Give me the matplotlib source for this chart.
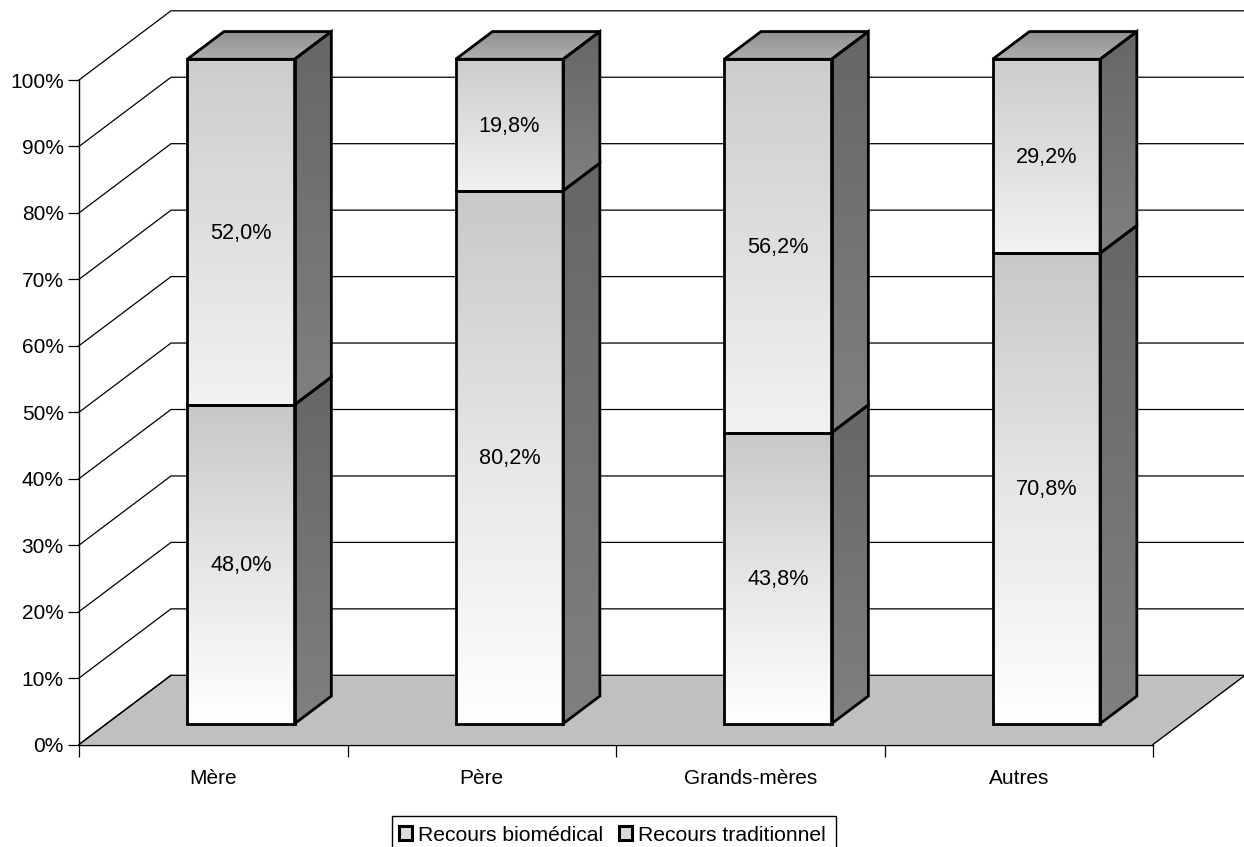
import numpy as np
import matplotlib
matplotlib.use("Agg")
import matplotlib.pyplot as plt
from matplotlib.patches import Polygon, Patch, Rectangle
from matplotlib.colors import LinearSegmentedColormap

categories = ["Mère", "Père", "Grands-mères", "Autres"]
biomedical = [48.0, 80.2, 43.8, 70.8]
traditionnel = [52.0, 19.8, 56.2, 29.2]
series_names = ["Recours biomédical", "Recours traditionnel"]
y_ticks = list(range(0, 101, 10))

plt.rcParams["font.family"] = ["Liberation Sans", "DejaVu Sans"]
FS = 15.0
W, H = 1244, 847
fig = plt.figure(figsize=(W / 100, H / 100), dpi=100, facecolor="white")
ax = fig.add_axes([79 / W, (H - 744.5) / H, 1074 / W, 664.5 / H])

DX, DY = 92 / 268.5, 69.2 / 6.645   # depth of the 3D box, in data units
BAR_W, Z0, Z1 = 0.4, 0.3, 0.7


def proj(x, y, z):
    return (x + z * DX, y + z * DY)


def grad_poly(pts, colors, zorder):
    pts = np.array(pts)
    cmap = LinearSegmentedColormap.from_list("g", colors)
    g = np.linspace(0, 1, 256).reshape(-1, 1)
    ext = [pts[:, 0].min(), pts[:, 0].max(), pts[:, 1].min(), pts[:, 1].max()]
    im = ax.imshow(g, cmap=cmap, extent=ext, origin="upper", aspect="auto",
                   zorder=zorder, interpolation="bilinear")
    poly = Polygon(pts, closed=True, transform=ax.transData, fc="none", ec="none")
    ax.add_patch(poly)
    poly.set_clip_on(False)
    im.set_clip_path(poly)
    im.set_clip_box(fig.bbox)
    ax.add_patch(Polygon(pts, closed=True, fc="none", ec="black", lw=2.0,
                         joinstyle="miter", zorder=zorder + 0.5, clip_on=False))


# floor
ax.add_patch(Polygon([proj(0, 0, 0), proj(4, 0, 0), proj(4, 0, 1), proj(0, 0, 1)],
                     closed=True, fc="#c0c0c0", ec="none", zorder=1, clip_on=False))
ax.plot(*zip(proj(4, 0, 0), proj(4, 0, 1)), color="black", lw=1, zorder=1.2, clip_on=False)
ax.plot(*zip(proj(0, 0, 0), proj(0, 0, 1)), color="black", lw=1, zorder=1.2, clip_on=False)

# walls: gridlines
for t in y_ticks:
    a, b, c = proj(0, t, 0), proj(0, t, 1), proj(4, t, 1)
    ax.plot([a[0], b[0], c[0]], [a[1], b[1], c[1]], color="black", lw=0.9,
            zorder=1.5, clip_on=False, solid_joinstyle="miter")

# bars
LOWER = ["#c8c8c8", "#e6e6e6", "#ffffff"]
UPPER = ["#cdcdcd", "#dfdfdf", "#f2f2f2"]
SIDE = ["#666666", "#808080"]
for i, (lo, up) in enumerate(zip(biomedical, traditionnel)):
    x0 = i + 0.5 - BAR_W / 2
    x1 = x0 + BAR_W
    z = 3 + i
    for y0, y1, face in [(0, lo, LOWER), (lo, lo + up, UPPER)]:
        grad_poly([proj(x1, y0, Z0), proj(x1, y0, Z1), proj(x1, y1, Z1), proj(x1, y1, Z0)],
                  SIDE, z)
        grad_poly([proj(x0, y0, Z0), proj(x1, y0, Z0), proj(x1, y1, Z0), proj(x0, y1, Z0)],
                  face, z + 0.1)
        ax.annotate(f"{y1 - y0:.1f}%".replace(".", ","),
                    xy=proj((x0 + x1) / 2, (y0 + y1) / 2, Z0), xytext=(0, -0.8),
                    textcoords="offset points", ha="center", va="center",
                    fontsize=15.6, color="black", zorder=z + 0.8, annotation_clip=False)
    top = lo + up
    grad_poly([proj(x0, top, Z0), proj(x1, top, Z0), proj(x1, top, Z1), proj(x0, top, Z1)],
              ["#8f8f8f", "#b0b0b0"], z + 0.2)

ax.set_xlim(0, 4)
ax.set_ylim(0, 100)
ax.patch.set_visible(False)
for s in ("top", "right"):
    ax.spines[s].set_visible(False)
for s in ("left", "bottom"):
    ax.spines[s].set_linewidth(1)
    ax.spines[s].set_zorder(2)
ax.set_yticks(y_ticks)
ax.set_yticklabels([f"{t}%" for t in y_ticks], fontsize=FS)
ax.set_xticks(range(5))
ax.set_xticklabels([])
ax.set_xticks(np.arange(len(categories)) + 0.5, minor=True)
ax.set_xticklabels(categories, minor=True, fontsize=FS)
ax.tick_params(axis="x", which="major", length=8.5, width=0.9)
ax.tick_params(axis="x", which="minor", length=0, pad=17.5)
ax.tick_params(axis="y", length=8, width=0.9, pad=3)

# legend: the frame runs past the bottom edge of the canvas, as in the reference
fig.add_artist(Rectangle((391.5 / W, -20 / H), 444.5 / W, (H - 816 + 20) / H,
                         transform=fig.transFigure, fc="white", ec="black", lw=1))
handles = [Patch(fc="#dedede", ec="black", lw=2.2), Patch(fc="#dadada", ec="black", lw=2.2)]
leg = fig.legend(handles, series_names, loc="center left",
                 bbox_to_anchor=(399 / W, (H - 835) / H), bbox_transform=fig.transFigure,
                 ncol=2, fontsize=15.2, frameon=False,
                 handlelength=0.62, handleheight=0.62, handletextpad=0.28,
                 columnspacing=0.74, borderpad=0, borderaxespad=0)

fig.savefig("out.png", dpi=100)
